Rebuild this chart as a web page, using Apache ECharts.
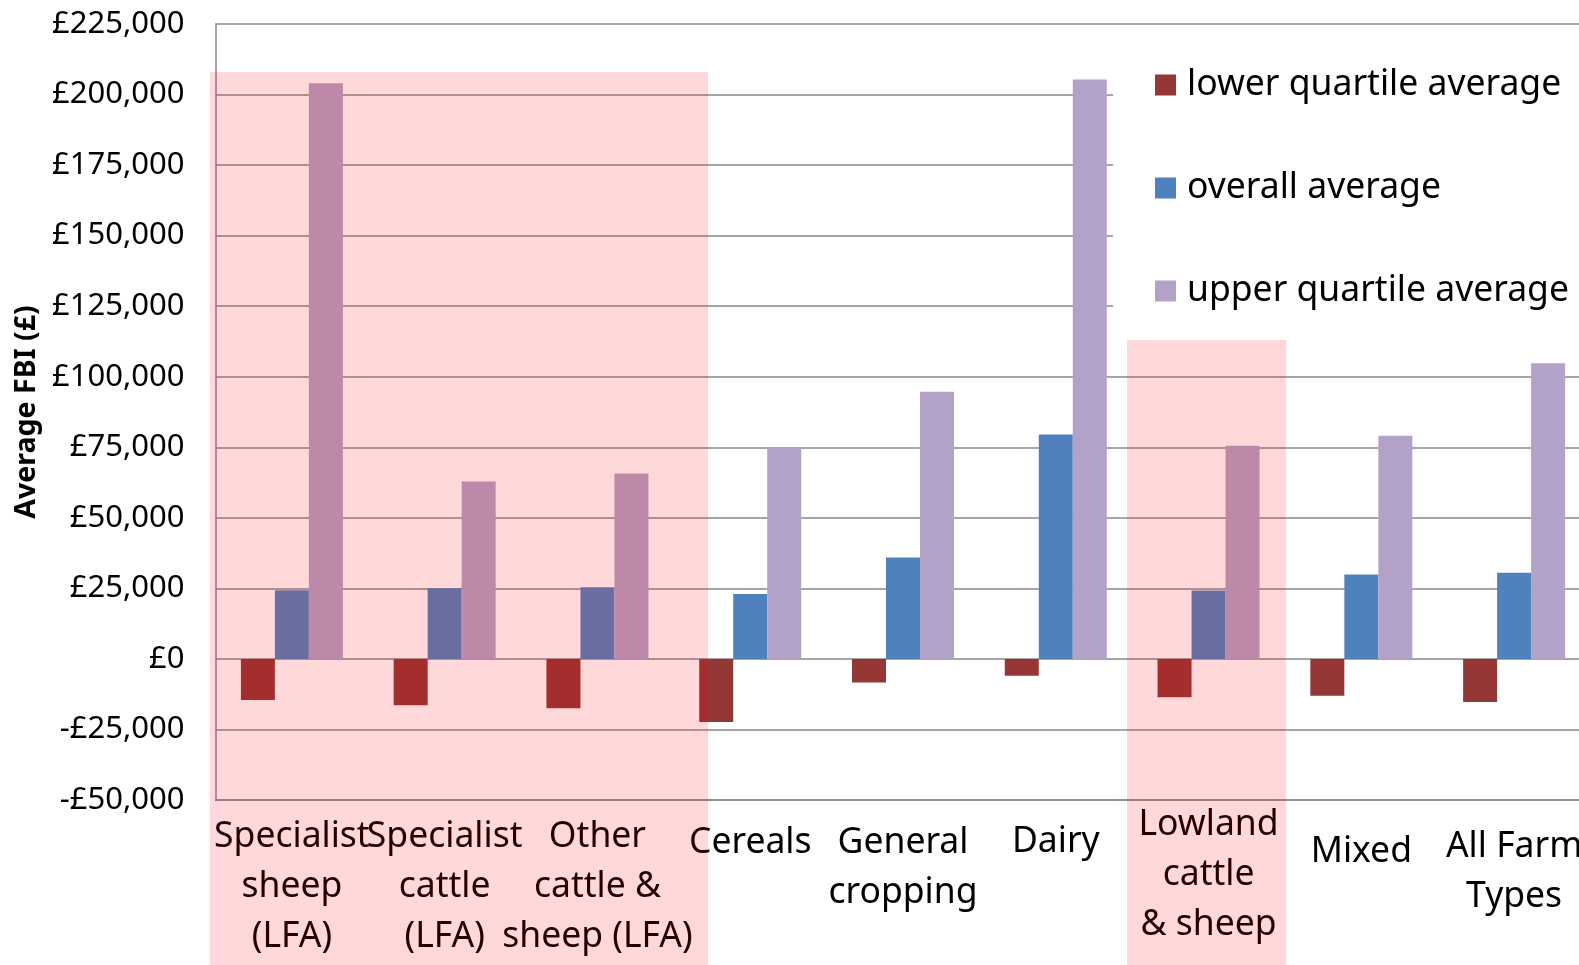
<!DOCTYPE html>
<html>
<head>
<meta charset="utf-8">
<script src="https://cdn.jsdelivr.net/npm/echarts@6/dist/echarts.min.js"></script>
<style>
  html, body { margin: 0; padding: 0; background: #fff; overflow: hidden; }
  /* the original is cropped on the right, so the canvas runs past the window */
  #chart { width: 1600px; height: 965px; }
</style>
</head>
<body>
<div id="chart"></div>
<script>
// farm types along the bottom (line breaks as in the original)
const categories = [
  'Specialist\nsheep\n(LFA)',
  'Specialist\ncattle\n(LFA)',
  'Other\ncattle &\nsheep (LFA)',
  'Cereals',
  'General\ncropping',
  'Dairy',
  'Lowland\ncattle\n& sheep',
  'Mixed',
  'All Farm\nTypes'
];
const lowerQuartile = [-14600, -16400, -17500, -22400, -8400, -6000, -13600, -13100, -15300];
const overallAverage = [24300, 25000, 25400, 23000, 35900, 79500, 24200, 29900, 30500];
const upperQuartile = [204000, 62900, 65700, 74800, 94700, 205300, 75500, 79100, 104800];
const seriesNames = ['lower quartile average', 'overall average', 'upper quartile average'];

// small vertical nudges so the wrapped labels sit like in the original
const labelPadTop = [12, 12, 12, 18, 18, 17, 0, 27, 22];

const font = "'Noto Sans', 'Open Sans', sans-serif";
const chart = echarts.init(document.getElementById('chart'));

const fmt = v => (v < 0 ? '-£' : '£') + Math.abs(v).toLocaleString('en-GB');

chart.setOption({
  animation: false,
  textStyle: { fontFamily: font },
  grid: { left: 215.5, top: 24, width: 1375, height: 776 },
  legend: {
    orient: 'vertical',
    left: 1113,
    top: 40,
    padding: [25, 40, 28, 42],
    backgroundColor: '#fff',
    itemWidth: 21,
    itemHeight: 21,
    itemGap: 63,
    icon: 'rect',
    textStyle: { fontSize: 35.5, lineHeight: 40, color: '#000', padding: [0, 0, 0, 6] },
    data: seriesNames
  },
  xAxis: {
    type: 'category',
    data: categories.map((c, i) => ({ value: c, textStyle: { padding: [labelPadTop[i], 0, 0, 0] } })),
    position: 'bottom',
    axisLine: { onZero: false, lineStyle: { color: '#888', width: 1.5 } },
    axisTick: { show: false },
    axisLabel: { fontSize: 35.5, lineHeight: 50, color: '#000', margin: 0, interval: 0, fontFamily: font }
  },
  yAxis: {
    type: 'value',
    min: -50000,
    max: 225000,
    interval: 25000,
    name: 'Average FBI (£)',
    nameLocation: 'middle',
    nameRotate: 90,
    nameGap: 168,
    nameTextStyle: { fontSize: 28.5, fontWeight: 'bold', color: '#000', fontFamily: font },
    axisLine: { show: true, lineStyle: { color: '#888', width: 1.5 } },
    axisTick: { show: false },
    splitLine: { lineStyle: { color: '#888', width: 1.5 } },
    axisLabel: { fontSize: 31, color: '#000', margin: 31, formatter: fmt, fontFamily: font }
  },
  series: [
    { name: seriesNames[0], type: 'bar', data: lowerQuartile, barWidth: 34, barGap: '0%',
      itemStyle: { color: '#953735' } },
    { name: seriesNames[1], type: 'bar', data: overallAverage, barWidth: 34, barGap: '0%',
      itemStyle: { color: '#4F81BD' } },
    { name: seriesNames[2], type: 'bar', data: upperQuartile, barWidth: 34, barGap: '0%',
      itemStyle: { color: '#B3A2C7' } }
  ],
  // translucent pink highlight boxes drawn over the chart
  graphic: [
    { type: 'rect', z: 100, silent: true, shape: { x: 210, y: 72, width: 498, height: 893 },
      style: { fill: 'rgba(255,0,0,0.15)' } },
    { type: 'rect', z: 100, silent: true, shape: { x: 1127, y: 340, width: 159, height: 625 },
      style: { fill: 'rgba(255,0,0,0.15)' } }
  ]
});
</script>
</body>
</html>
